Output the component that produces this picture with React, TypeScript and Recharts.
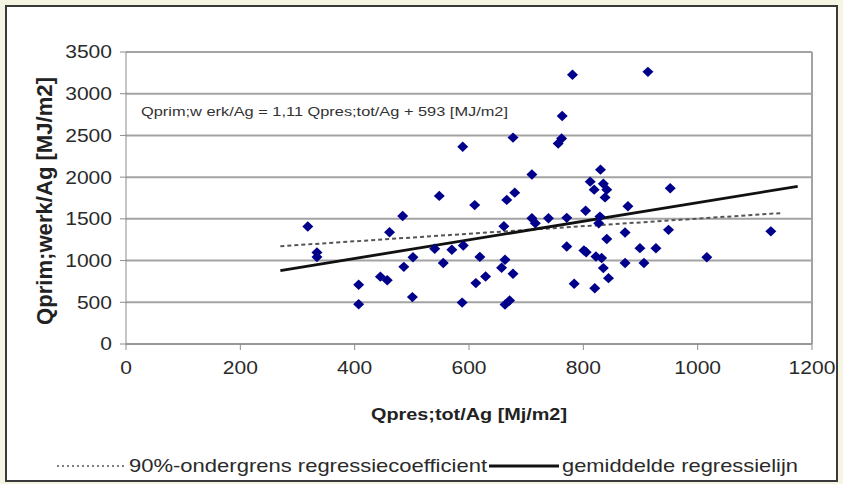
import {
  ComposedChart,
  Scatter,
  Line,
  XAxis,
  YAxis,
  CartesianGrid,
  ReferenceLine,
  Legend,
} from "recharts";

// meetpunten: Qpres;tot/Ag (x) tegen Qprim;werk/Ag (y)
const pointX = [
  318, 334, 334, 407, 407, 445, 457, 461, 484, 486, 502, 501, 540, 548, 555,
  570, 590, 589, 588, 610, 619, 612, 629, 657, 661, 663, 666, 663, 671, 677,
  680, 677, 710, 710, 716, 739, 756, 762, 763, 771, 771, 781, 784, 801, 804,
  805, 812, 819, 820, 822, 830, 829, 827, 835, 832, 835, 841, 838, 841, 844,
  873, 873, 878, 899, 906, 913, 927, 949, 952, 1016, 1128,
];
const pointY = [
  1408, 1098, 1042, 710, 476, 807, 765, 1340, 1534, 925, 1040, 562, 1142, 1775,
  970, 1130, 1180, 2364, 496, 1665, 1044, 730, 809, 914, 1412, 1010, 1727, 472,
  522, 842, 1814, 2474, 2032, 1507, 1448, 1507, 2404, 2464, 2732, 1168, 1512,
  3228, 722, 1122, 1598, 1100, 1946, 1850, 668, 1048, 2090, 1527, 1447, 1920,
  1030, 910, 1850, 1757, 1258, 789, 1336, 970, 1652, 1149, 970, 3262, 1148,
  1368, 1866, 1040, 1350,
];

// regressielijnen (begin- en eindpunt)
const meanLineX = [270, 1175];
const meanLineY = [880, 1890];
const lowerLineX = [270, 1148];
const lowerLineY = [1172, 1570];

const xTicks = [0, 200, 400, 600, 800, 1000, 1200];
const yTicks = [0, 500, 1000, 1500, 2000, 2500, 3000, 3500];

const points = pointX.map((x, i) => ({ x, y: pointY[i] }));
const meanLine = meanLineX.map((x, i) => ({ x, y: meanLineY[i] }));
const lowerLine = lowerLineX.map((x, i) => ({ x, y: lowerLineY[i] }));

const FONT = "'Liberation Sans', Arial, sans-serif";
const GRID = "#a3a3a3";

const DigitTick = ({ x, y, payload, anchor, dy }: any) => {
  const s = String(payload.value);
  return (
    <text
      x={x}
      y={y}
      dy={dy}
      textAnchor={anchor}
      fontSize={18}
      fontFamily={FONT}
      fill="#2a2a2a"
      textLength={s.length * 11.7}
      lengthAdjust="spacingAndGlyphs"
    >
      {s}
    </text>
  );
};

const XTitle = ({ viewBox }: any) => (
  <text
    x={viewBox.x + viewBox.width / 2}
    y={viewBox.y + 76}
    textAnchor="middle"
    fontSize={17}
    fontWeight="bold"
    fontFamily={FONT}
    fill="#222"
    textLength={196}
    lengthAdjust="spacingAndGlyphs"
  >
    Qpres;tot/Ag [Mj/m2]
  </text>
);

const YTitle = ({ viewBox }: any) => {
  const cx = viewBox.x + 24;
  const cy = viewBox.y + viewBox.height / 2 + 3;
  return (
    <text
      x={cx}
      y={cy}
      dy="0.36em"
      transform={`rotate(-90 ${cx} ${cy})`}
      textAnchor="middle"
      fontSize={22}
      fontWeight="bold"
      fontFamily={FONT}
      fill="#222"
      textLength={248}
      lengthAdjust="spacingAndGlyphs"
    >
      Qprim;werk/Ag [MJ/m2]
    </text>
  );
};

const Diamond = ({ cx, cy }: any) => (
  <path
    d={`M${cx},${cy - 5.2} L${cx + 5.5},${cy} L${cx},${cy + 5.2} L${cx - 5.5},${cy} Z`}
    fill="#00008b"
  />
);

const LegendBox = () => (
  <svg width={843} height={28} style={{ display: "block" }}>
    <line x1={57} x2={124} y1={14} y2={14} stroke="#555" strokeWidth={1.5} strokeDasharray="2 3" />
    <text x={129} y={20} fontSize={19} fontFamily={FONT} fill="#2a2a2a" textLength={358} lengthAdjust="spacingAndGlyphs">
      90%-ondergrens regressiecoefficient
    </text>
    <line x1={489} x2={559} y1={14} y2={14} stroke="#111" strokeWidth={3} />
    <text x={562} y={20} fontSize={19} fontFamily={FONT} fill="#2a2a2a" textLength={236} lengthAdjust="spacingAndGlyphs">
      gemiddelde regressielijn
    </text>
  </svg>
);

export default function App() {
  return (
    <div style={{ position: "absolute", left: 0, top: 0, width: 843, height: 484, background: "#f6f5e3", overflow: "hidden" }}>
      <div
        style={{
          position: "absolute",
          left: 5,
          top: 5,
          width: 829,
          height: 473,
          border: "2px solid #3a3a3a",
          background: "#fff",
        }}
      />
      <div style={{ position: "absolute", left: 0, top: 0 }}>
        <ComposedChart
          width={843}
          height={484}
          margin={{ top: 52, right: 31, left: 20, bottom: 32 }}
        >
          <CartesianGrid vertical={false} stroke={GRID} strokeWidth={2} />
          <XAxis
            dataKey="x"
            type="number"
            domain={[0, 1200]}
            ticks={xTicks}
            allowDataOverflow
            height={80}
            stroke="#8c8c8c"
            tickSize={6}
            tickMargin={4}
            tick={(p: any) => <DigitTick {...p} anchor="middle" dy="1.1em" />}
            label={<XTitle />}
          />
          <YAxis
            dataKey="y"
            type="number"
            domain={[0, 3500]}
            ticks={yTicks}
            allowDataOverflow
            width={106}
            stroke="#8c8c8c"
            tickSize={6}
            tickMargin={8}
            tick={(p: any) => <DigitTick {...p} anchor="end" dy="0.36em" />}
            label={<YTitle />}
          />
          <ReferenceLine x={1200} stroke={GRID} strokeWidth={2} />
          <Line
            data={lowerLine}
            dataKey="y"
            stroke="#555"
            strokeWidth={2}
            strokeDasharray="4 3"
            dot={false}
            isAnimationActive={false}
          />
          <Line
            data={meanLine}
            dataKey="y"
            stroke="#111"
            strokeWidth={2.8}
            dot={false}
            isAnimationActive={false}
          />
          <Scatter
            data={points}
            dataKey="y"
            shape={<Diamond />}
            isAnimationActive={false}
          />
          <text x={141} y={116} fontSize={13} fontFamily={FONT} fill="#333" textLength={367} lengthAdjust="spacingAndGlyphs">
            Qprim;w erk/Ag = 1,11 Qpres;tot/Ag + 593 [MJ/m2]
          </text>
          <Legend
            content={<LegendBox />}
            verticalAlign="bottom"
            wrapperStyle={{ left: 0, bottom: 4, width: 843, height: 28 }}
          />
        </ComposedChart>
      </div>
    </div>
  );
}
